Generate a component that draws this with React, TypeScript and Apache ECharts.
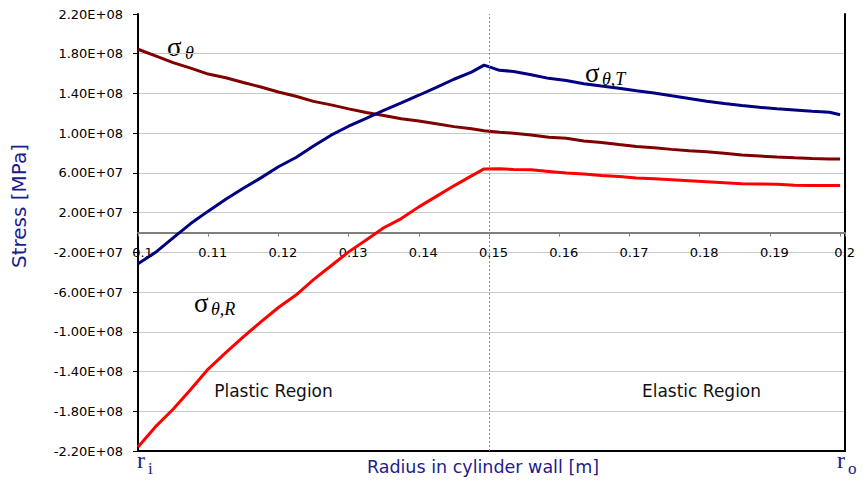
import React, { useEffect, useRef } from "react";
import * as echarts from "echarts";

// Radius in cylinder wall [m]
const radius = [
  0.1, 0.1025, 0.105, 0.1075, 0.11, 0.1125, 0.115, 0.1175, 0.12, 0.1225,
  0.125, 0.1275, 0.13, 0.1325, 0.135, 0.1375, 0.14, 0.1425, 0.145, 0.1475,
  0.1493, 0.1515, 0.1535, 0.156, 0.1585, 0.161, 0.1635, 0.166, 0.1685, 0.171,
  0.1735, 0.176, 0.1785, 0.181, 0.1835, 0.186, 0.1885, 0.191, 0.1935, 0.196,
  0.1985, 0.2,
];

// sigma_theta (total hoop stress)
const sigmaTheta = [
  1.845e8, 1.778e8, 1.71e8, 1.655e8, 1.595e8, 1.558e8, 1.51e8, 1.465e8, 1.415e8, 1.372e8,
  1.32e8, 1.285e8, 1.245e8, 1.208e8, 1.178e8, 1.145e8, 1.122e8, 1.094e8, 1.066e8, 1.045e8,
  1.025e8, 1.01e8, 1.0e8, 9.82e7, 9.58e7, 9.48e7, 9.22e7, 9.07e7, 8.85e7, 8.65e7,
  8.53e7, 8.37e7, 8.22e7, 8.14e7, 7.98e7, 7.8e7, 7.7e7, 7.6e7, 7.52e7, 7.45e7,
  7.4e7, 7.4e7,
];

// sigma_theta,T
const sigmaThetaT = [
  -3.15e7, -2.0e7, -5.5e6, 9.0e6, 2.15e7, 3.35e7, 4.45e7, 5.5e7, 6.62e7, 7.55e7,
  8.7e7, 9.8e7, 1.07e8, 1.15e8, 1.23e8, 1.305e8, 1.382e8, 1.462e8, 1.543e8, 1.615e8,
  1.685e8, 1.633e8, 1.622e8, 1.588e8, 1.552e8, 1.53e8, 1.497e8, 1.474e8, 1.452e8, 1.428e8,
  1.405e8, 1.376e8, 1.35e8, 1.322e8, 1.298e8, 1.278e8, 1.26e8, 1.245e8, 1.233e8, 1.22e8,
  1.21e8, 1.185e8,
];

// sigma_theta,R
const sigmaThetaR = [
  -2.16e8, -1.955e8, -1.78e8, -1.58e8, -1.375e8, -1.21e8, -1.05e8, -9.0e7, -7.55e7, -6.3e7,
  -4.75e7, -3.35e7, -1.95e7, -7.5e6, 4.8e6, 1.4e7, 2.58e7, 3.64e7, 4.7e7, 5.7e7,
  6.4e7, 6.42e7, 6.35e7, 6.32e7, 6.15e7, 5.98e7, 5.88e7, 5.75e7, 5.64e7, 5.48e7,
  5.42e7, 5.32e7, 5.22e7, 5.12e7, 5.02e7, 4.92e7, 4.88e7, 4.85e7, 4.76e7, 4.74e7,
  4.74e7, 4.74e7,
];

const elasticBoundary = 0.1493;

const X_MIN = 0.1;
const X_MAX = 0.2007;
const X_STEP = 0.01;
const Y_MIN = -2.2e8;
const Y_MAX = 2.2e8;
const Y_STEP = 4e7;

const NAVY = "#000080";
const MAROON = "#800000";
const RED = "#ff0000";
const TITLE_BLUE = "#1c1c8c";

function sci(n: number): string {
  const s = n.toExponential(2);
  const [m, e] = s.split("e");
  const sign = e[0];
  const digits = e.slice(1).padStart(2, "0");
  return `${m}E${sign}${digits}`;
}

function xLabel(v: number): string {
  const k = v / X_STEP;
  if (Math.abs(k - Math.round(k)) > 1e-6) return "";
  return String(+v.toFixed(2));
}

const pairs = (ys: number[]) => radius.map((x, i) => [x, ys[i]]);

export default function App() {
  const ref = useRef<HTMLDivElement>(null);

  useEffect(() => {
    document.body.style.margin = "0";
    const chart = echarts.init(ref.current!, undefined, { renderer: "svg" });
    const nTicks = Math.round((Y_MAX - Y_MIN) / Y_STEP) + 1;
    const splitColors: string[] = [];
    for (let i = 0; i < nTicks; i++) splitColors.push(i === nTicks - 1 ? "rgba(0,0,0,0)" : "#c8c8c8");

    const gridTop = 14;
    const gridBottom = 32;
    const plotHeight = 483 - gridTop - gridBottom;
    // lift the tick-label axis up to the zero stress level
    const zeroOffset = -(plotHeight * (0 - Y_MIN)) / (Y_MAX - Y_MIN);

    const serif = '"Liberation Serif", "Times New Roman", serif';
    const sans = '"DejaVu Sans", Verdana, sans-serif';

    const lineSeries = (name: string, ys: number[], color: string, extra: any = {}) => ({
      name,
      type: "line",
      xAxisIndex: 0,
      yAxisIndex: 0,
      data: pairs(ys),
      showSymbol: false,
      symbol: "none",
      smooth: false,
      lineStyle: { color, width: 3 },
      itemStyle: { color },
      ...extra,
    });

    const option: any = {
      animation: false,
      backgroundColor: "#ffffff",
      grid: { left: 138, right: 18, top: gridTop, bottom: gridBottom, containLabel: false },
      xAxis: [
        {
          type: "value",
          min: X_MIN,
          max: X_MAX,
          interval: X_STEP,
          position: "bottom",
          offset: zeroOffset,
          axisLine: { show: true, onZero: false, lineStyle: { color: "#7f7f7f", width: 2 } },
          axisTick: { show: true, inside: false, length: 4, lineStyle: { color: "#7f7f7f", width: 1 } },
          axisLabel: {
            show: true,
            margin: 13,
            color: "#000",
            fontFamily: sans,
            fontSize: 13,
            padding: [0, 0, 0, 9],
            formatter: xLabel,
          },
          splitLine: { show: false },
        },
        {
          type: "value",
          min: X_MIN,
          max: X_MAX,
          position: "bottom",
          axisLine: { show: true, onZero: false, lineStyle: { color: "#000", width: 2 } },
          axisTick: { show: false },
          axisLabel: { show: false },
          splitLine: { show: false },
        },
      ],
      yAxis: [
        {
          type: "value",
          min: Y_MIN,
          max: Y_MAX,
          axisLine: { show: false, onZero: false },
          axisTick: { show: false },
          axisLabel: { show: false },
          splitLine: { show: false },
        },
        {
          type: "value",
          min: 0,
          max: Y_MAX - Y_MIN,
          interval: Y_STEP,
          position: "left",
          axisLine: { show: true, onZero: false, lineStyle: { color: "#000", width: 2 } },
          axisTick: { show: true, inside: false, length: 5, lineStyle: { color: "#000", width: 1 } },
          axisLabel: {
            margin: 15,
            color: "#000",
            fontFamily: sans,
            fontSize: 13,
            formatter: (v: number) => sci(v + Y_MIN),
          },
          splitLine: { show: true, lineStyle: { color: splitColors, width: 1 } },
        },
        {
          type: "value",
          min: 0,
          max: 1,
          position: "right",
          axisLine: { show: true, onZero: false, lineStyle: { color: "#000", width: 2 } },
          axisTick: { show: false },
          axisLabel: { show: false },
          splitLine: { show: false },
        },
      ],
      series: [
        lineSeries("σθ", sigmaTheta, MAROON, {
          markLine: {
            silent: true,
            symbol: ["none", "none"],
            label: { show: false },
            lineStyle: { type: [2, 2], color: "#8a8a8a", width: 1 },
            data: [{ xAxis: elasticBoundary }],
          },
        }),
        lineSeries("σθ,T", sigmaThetaT, NAVY),
        lineSeries("σθ,R", sigmaThetaR, RED),
      ],
      graphic: [
        {
          type: "text",
          x: 19,
          y: 206,
          rotation: Math.PI / 2,
          style: { text: "Stress [MPa]", font: `20px ${sans}`, fill: TITLE_BLUE, align: "center", verticalAlign: "middle" },
        },
        {
          type: "text",
          x: 483,
          y: 467,
          style: { text: "Radius in cylinder wall [m]", font: `17.5px ${sans}`, fill: TITLE_BLUE, align: "center", verticalAlign: "middle" },
        },
        {
          type: "text",
          x: 273.5,
          y: 391,
          style: { text: "Plastic Region", font: `17px ${sans}`, fill: "#111", align: "center", verticalAlign: "middle" },
        },
        {
          type: "text",
          x: 701.5,
          y: 391,
          style: { text: "Elastic Region", font: `17px ${sans}`, fill: "#111", align: "center", verticalAlign: "middle" },
        },
        // sigma_theta
        { type: "text", x: 167, y: 47, style: { text: "σ", font: `27px ${serif}`, fill: "#000", align: "left", verticalAlign: "middle" } },
        { type: "text", x: 185, y: 53, style: { text: "θ", font: `italic 18px ${serif}`, fill: "#000", align: "left", verticalAlign: "middle" } },
        // sigma_theta,T
        { type: "text", x: 585, y: 73, style: { text: "σ", font: `27px ${serif}`, fill: "#000", align: "left", verticalAlign: "middle" } },
        { type: "text", x: 602, y: 79, style: { text: "θ,T", font: `italic 18px ${serif}`, fill: "#000", align: "left", verticalAlign: "middle" } },
        // sigma_theta,R
        { type: "text", x: 194, y: 303, style: { text: "σ", font: `27px ${serif}`, fill: "#000", align: "left", verticalAlign: "middle" } },
        { type: "text", x: 211, y: 309, style: { text: "θ,R", font: `italic 18px ${serif}`, fill: "#000", align: "left", verticalAlign: "middle" } },
        // r_i and r_o
        { type: "text", x: 137, y: 460, style: { text: "r", font: `24px ${serif}`, fill: TITLE_BLUE, align: "left", verticalAlign: "middle" } },
        { type: "text", x: 148, y: 468, style: { text: "i", font: `17px ${serif}`, fill: TITLE_BLUE, align: "left", verticalAlign: "middle" } },
        { type: "text", x: 837, y: 460, style: { text: "r", font: `24px ${serif}`, fill: TITLE_BLUE, align: "left", verticalAlign: "middle" } },
        { type: "text", x: 848, y: 468, style: { text: "o", font: `17px ${serif}`, fill: TITLE_BLUE, align: "left", verticalAlign: "middle" } },
      ],
    };

    chart.setOption(option);
    return () => chart.dispose();
  }, []);

  return <div ref={ref} style={{ width: 863, height: 483, position: "absolute", left: 0, top: 0 }} />;
}
